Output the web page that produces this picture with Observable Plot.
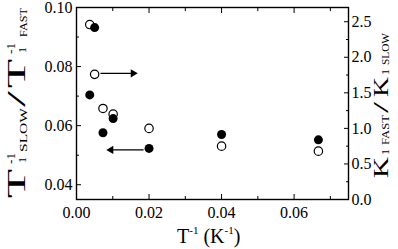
<!DOCTYPE html>
<html><head><meta charset="utf-8">
<script src="https://cdn.jsdelivr.net/npm/d3@7"></script>
<script src="https://cdn.jsdelivr.net/npm/@observablehq/plot@0.6"></script>
<style>body{margin:0;background:#fff} svg{display:block}</style>
</head><body><div id="chart"></div>
<script>
// inverse temperature (1/K)
const invT = [0.00365, 0.005, 0.0073, 0.0101, 0.02, 0.04, 0.0667];
// filled circles: T1^-1 SLOW / T1^-1 FAST (left axis)
const t1Ratio = [0.0704, 0.0932, 0.0576, 0.0624, 0.0523, 0.0570, 0.0552];
// open circles: K1 FAST / K1 SLOW (right axis)
const kRatio = [2.46, 1.76, 1.28, 1.20, 1.00, 0.75, 0.68];
// arrows (annotation)
const arrowX1 = [0.0066, 0.0185];
const arrowX2 = [0.0156, 0.0095];
const arrowY = [0.0777, 0.0518];
// ticks
const xTicks = [0, 0.02, 0.04, 0.06];
const xMinor = [0.01, 0.03, 0.05, 0.07];
const yTicks = [0.04, 0.06, 0.08, 0.10];
const yMinor = [0.05, 0.07, 0.09];
const kTicks = [0, 0.5, 1.0, 1.5, 2.0, 2.5];
const kMinor = [0.25, 0.75, 1.25, 1.75, 2.25];

const xDomain = [0, 0.075];
const yDomain = [0.035, 0.10];
const kDomain = [0, 2.7];
const kToY = d3.scaleLinear(kDomain, yDomain);

const rows = invT.map((x, i) => ({x, t1: t1Ratio[i], k: kRatio[i]}));
const arrows = arrowY.map((y, i) => ({x1: arrowX1[i], x2: arrowX2[i], y}));

const font = "'Liberation Serif', 'Times New Roman', serif";
const noText = () => "";

const plot = Plot.plot({
  width: 398, height: 249,
  marginLeft: 76, marginRight: 50, marginTop: 7, marginBottom: 50,
  style: {fontFamily: font, fontSize: "16px", background: "#fff", color: "#000"},
  x: {domain: xDomain, axis: null},
  y: {domain: yDomain, axis: null},
  marks: [
    // tick marks, inward
    Plot.axisX({anchor: "bottom", ticks: xTicks, tickSize: 5, dy: -5, tickFormat: noText, label: null}),
    Plot.axisX({anchor: "bottom", ticks: xMinor, tickSize: 3, dy: -3, tickFormat: noText, label: null}),
    Plot.axisX({anchor: "top", ticks: xTicks, tickSize: 5, dy: 5, tickFormat: noText, label: null}),
    Plot.axisX({anchor: "top", ticks: xMinor, tickSize: 3, dy: 3, tickFormat: noText, label: null}),
    Plot.axisY({anchor: "left", ticks: yTicks, tickSize: 5, dx: 5, tickFormat: noText, label: null}),
    Plot.axisY({anchor: "left", ticks: yMinor, tickSize: 3, dx: 3, tickFormat: noText, label: null}),
    Plot.axisY({anchor: "right", ticks: kTicks.map(kToY), tickSize: 5, dx: -5, tickFormat: noText, label: null}),
    Plot.axisY({anchor: "right", ticks: kMinor.map(kToY), tickSize: 3, dx: -3, tickFormat: noText, label: null}),
    // tick labels
    Plot.axisX({anchor: "bottom", ticks: xTicks, tickSize: 0, tickPadding: 7,
      tickFormat: d3.format(".2f"), label: null}),
    Plot.axisY({anchor: "left", ticks: yTicks, tickSize: 0, tickPadding: 4,
      tickFormat: d3.format(".2f"), label: null}),
    Plot.axisY({anchor: "right", ticks: kTicks.map(kToY), tickSize: 0, tickPadding: 3,
      tickFormat: v => kToY.invert(v).toFixed(1), label: null}),
    Plot.frame({strokeWidth: 1.4}),
    // arrows
    Plot.link(arrows, {x1: "x1", x2: "x2", y1: "y", y2: "y", strokeWidth: 1.2, stroke: "#000"}),
    Plot.dot(arrows, {x: "x2", y: "y", symbol: "triangle", r: 3, fill: "#000",
      rotate: d => d.x2 > d.x1 ? 90 : -90}),
    // data
    Plot.dot(rows, {x: "x", y: d => kToY(d.k), r: 4.2, fill: "#fff", stroke: "#000", strokeWidth: 1.2}),
    Plot.dot(rows, {x: "x", y: "t1", r: 4.5, fill: "#000"})
  ]
});

const svg = d3.select(plot);
// force serif on all tick labels
svg.selectAll("text").style("font-family", font).style("font-size", "16px")
  .style("font-variant-numeric", "normal");

function rot(txt, x, y, size, len) {
  svg.append("text")
    .attr("transform", `translate(${x},${y}) rotate(-90)`)
    .attr("text-anchor", "start")
    .style("font-family", font).style("font-size", size + "px").attr("fill", "#000")
    .attr("textLength", len).attr("lengthAdjust", "spacingAndGlyphs")
    .text(txt);
}
// left axis label: T1^-1 SLOW / T1^-1 FAST
rot("T", 25, 198, 26, 29);
rot("-1", 15, 164, 12, 11);
rot("1", 26, 163, 11, 6);
rot("SLOW", 27, 152, 11, 44);
rot("/", 25, 107, 26, 16);
rot("T", 25, 88, 26, 29);
rot("-1", 15, 54, 12, 11);
rot("1", 26, 53, 11, 6);
rot("FAST", 27, 37, 11, 29);
// right axis label: K1 FAST / K1 SLOW
rot("K", 388, 178, 22, 21);
rot("1", 389, 155, 11, 6);
rot("FAST", 389, 145, 11, 30);
rot("/", 388, 113, 22, 11);
rot("K", 388, 97, 22, 20);
rot("1", 389, 75, 11, 6);
rot("SLOW", 389, 65, 11, 32);
// x axis label: T^-1 (K^-1)
const xl = svg.append("text").attr("x", 177).attr("y", 243).attr("text-anchor", "start")
  .style("font-family", font).style("font-size", "20px").attr("fill", "#000");
xl.append("tspan").text("T");
xl.append("tspan").style("font-size", "11px").attr("dy", -9).text("-1");
xl.append("tspan").attr("dy", 9).text(" (K");
xl.append("tspan").style("font-size", "11px").attr("dy", -9).text("-1");
xl.append("tspan").attr("dy", 9).text(")");

document.getElementById("chart").appendChild(plot);
</script>
</body></html>
